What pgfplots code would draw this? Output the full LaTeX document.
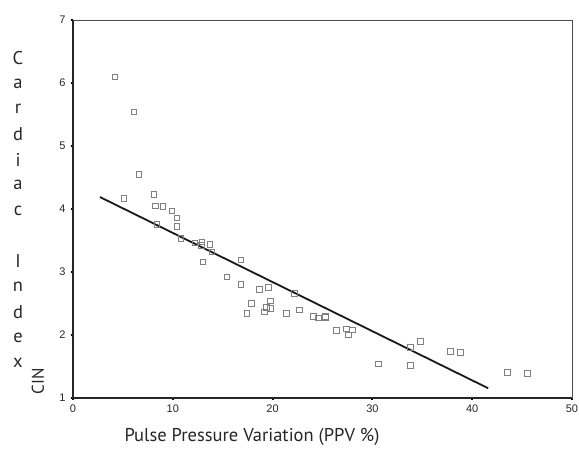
\documentclass[border=0pt]{standalone}
\usepackage{fontspec}
\setmainfont{PT Sans}
\newfontfamily\tickfont{Liberation Sans}
\usepackage{pgfplots}
\pgfplotsset{compat=1.18}
\begin{document}
\begin{tikzpicture}[x=1pt,y=1pt]
\path[use as bounding box] (-73,-70) rectangle (506,398);
\begin{axis}[at={(0,0)}, anchor=south west,
  width=499pt, height=378pt, scale only axis,
  xmin=0, xmax=50, ymin=1, ymax=7,
  xtick={0,10,...,50}, ytick={1,...,7},
  tick align=outside, major tick length=2pt,
  xtick pos=bottom, ytick pos=left,
  every tick/.style={black, line width=2pt},
  axis line style={line width=0.8pt, black!70},
  /pgf/number format/assume math mode=true,
  ticklabel style={font=\tickfont\fontsize{11}{11}\selectfont, text=black!85},
  xticklabel style={yshift=-1pt},
  yticklabel style={xshift=-2pt},
  clip=false]
\addplot[only marks, mark=square, mark size=2.8pt, mark options={draw=black!50, line width=0.7pt}] coordinates {
(4.2,6.10) (6.1,5.545) (6.6,4.55) (5.1,4.17) (8.1,4.23) (8.25,4.05)
(9.0,4.04) (9.9,3.97) (10.4,3.86) (10.4,3.72) (8.4,3.76) (10.8,3.53)
(12.2,3.46) (12.9,3.48) (12.85,3.42) (13.7,3.44) (13.9,3.32) (13.0,3.16)
(16.8,3.195) (15.4,2.92) (16.8,2.80) (18.7,2.72) (19.6,2.76) (17.9,2.50)
(19.8,2.54) (19.4,2.44) (19.8,2.42) (19.2,2.37) (17.4,2.34) (22.2,2.66)
(22.7,2.40) (21.4,2.34) (24.1,2.30) (24.6,2.27) (25.3,2.30) (25.3,2.28)
(26.4,2.07) (27.4,2.10) (28.0,2.08) (27.6,2.00) (30.6,1.54) (33.8,1.80)
(33.8,1.52) (34.8,1.90) (37.8,1.745) (38.8,1.725) (43.5,1.41) (45.5,1.39)
};
\addplot[black!90, line width=1.8pt] coordinates {(2.7,4.19) (41.6,1.155)};
\draw[line width=2pt, black!85] (rel axis cs:0,1) -- (rel axis cs:0,0) -- (rel axis cs:1,0);
\end{axis}
\foreach \ch [count=\i from 0] in {C,a,r,d,i,a,c,{},I,n,d,e,x}{
  \node[font=\fontsize{18.5}{18.5}\selectfont, inner sep=0pt, text=black!85] at (-55,{340-25.4*\i}) {\ch};
}
\node[rotate=90, font=\fontsize{17}{17}\selectfont, inner sep=0pt, text=black!85] at (-35,17) {CIN};
\node[font=\fontsize{18.5}{18.5}\selectfont, inner sep=0pt, text=black!85] at (179,-39) {Pulse Pressure Variation (PPV \%)};
\end{tikzpicture}
\end{document}
